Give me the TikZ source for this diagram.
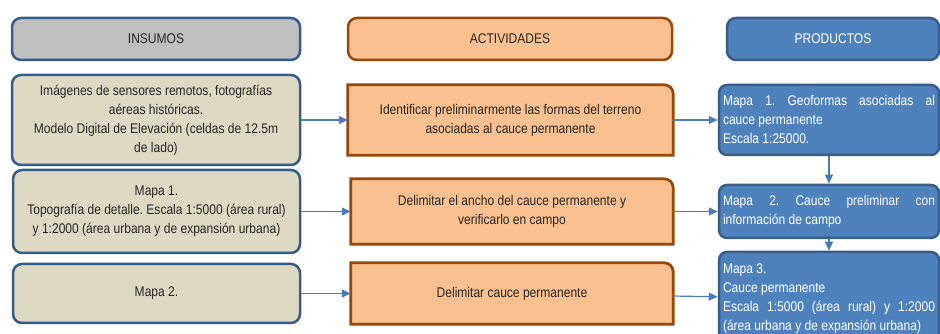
\documentclass[tikz,border=0pt]{standalone}
\usepackage{fontspec}
\setmainfont{Liberation Sans}[FakeStretch=0.86]
\usetikzlibrary{arrows.meta,backgrounds}

\definecolor{hdrgray}{HTML}{BFBFBF}
\definecolor{insfill}{HTML}{DDD9C3}
\definecolor{insline}{HTML}{345C8C}
\definecolor{actfill}{HTML}{FAC08F}
\definecolor{actline}{HTML}{984807}
\definecolor{prodfill}{HTML}{4F81BD}
\definecolor{prodline}{HTML}{385D8A}
\definecolor{arrowblue}{HTML}{4A7EBB}

\frenchspacing
\begin{document}
\begin{tikzpicture}[x=1pt,y=1pt,
  txt/.style={font=\fontsize{14}{19}\selectfont,inner sep=0pt},
  insbox/.style={txt,draw=insline,line width=2.5pt,rounded corners=9pt,align=center,text=black!85},
  actbox/.style={txt,align=center,text=black!85},
  prodbox/.style={txt,fill=prodfill,draw=prodline,line width=2.5pt,rounded corners=8pt,
    inner xsep=4pt,text width=212pt,align=justify,text=white},
  actedge/.style={draw=actline,fill=actfill,line width=2.8pt},
  conn/.style={draw=arrowblue,line width=1.2pt,-{Triangle[length=9pt,width=8pt]}}]

\useasboundingbox (0,0) rectangle (940,334);

%Column headers
\node[insbox,fill=hdrgray,minimum width=288,minimum height=42] (hins) at (156,295) {INSUMOS};
\node[insbox,fill=actfill,draw=actline,minimum width=324,minimum height=42] (hact) at (510,295) {ACTIVIDADES};
\node[insbox,fill=prodfill,draw=prodline,text=white,minimum width=212,minimum height=42] (hprod) at (833,295) {PRODUCTOS};

%Inputs
\node[insbox,fill=insfill,minimum width=288,minimum height=90] (i1) at (156,214)
  {Imágenes de sensores remotos, fotografías\\aéreas históricas.\\Modelo Digital de Elevación (celdas de 12.5m\\de lado)};
\node[insbox,fill=insfill,minimum width=287,minimum height=83] (i2) at (156.5,122.5)
  {Mapa 1.\\Topografía de detalle. Escala 1:5000 (área rural)\\y 1:2000 (área urbana y de expansión urbana)};
\node[insbox,fill=insfill,minimum width=287,minimum height=59] (i3) at (156.5,40.5) {Mapa 2.};

%Activities
\node[actbox,minimum width=325,minimum height=70] (a1) at (510.5,214)
  {Identificar preliminarmente las formas del terreno\\asociadas al cauce permanente};
\node[actbox,minimum width=322,minimum height=65] (a2) at (512,122.5)
  {Delimitar el ancho del cauce permanente y\\verificarlo en campo};
\node[actbox,minimum width=322,minimum height=61] (a3) at (512,40.5) {Delimitar cauce permanente};

\begin{scope}[on background layer]
\foreach \n in {a1,a2,a3}
  \draw[actedge] (\n.south west) -- (\n.north west) -- ([xshift=-9pt]\n.north east)
    arc[start angle=90,end angle=0,radius=9pt] -- (\n.south east) -- cycle;
\end{scope}

%Products
\node[prodbox,minimum height=70] (p1) at (829,214)
  {Mapa 1. Geoformas asociadas al\linebreak cauce permanente\\Escala 1:25000.};
\node[prodbox,minimum height=53] (p2) at (829,122.5)
  {Mapa 2. Cauce preliminar con\linebreak información de campo};
\node[prodbox,minimum height=93] (p3) at (829,35.5)
  {Mapa 3.\\Cauce permanente\\Escala 1:5000 (área rural) y 1:2000\linebreak (área urbana y de expansión urbana)};

%Connectors
\draw[conn] (i1) -- (a1);
\draw[conn] (i2) -- (a2);
\draw[conn] (i3) -- (a3);
\draw[conn] (a1) -- (p1);
\draw[conn] (a2) -- (p2);
\draw[conn] (a3) -- (p3);
\draw[conn] (p1) -- (p2);
\draw[conn] (p2) -- (p3);

\end{tikzpicture}
\end{document}
